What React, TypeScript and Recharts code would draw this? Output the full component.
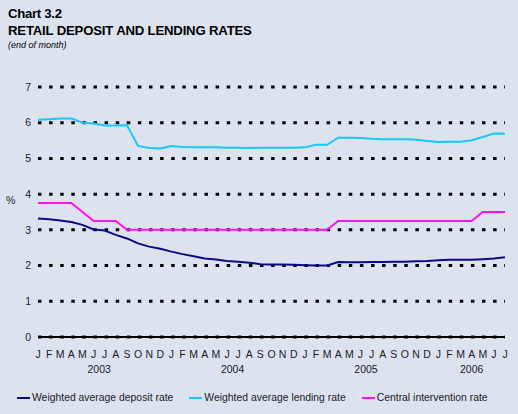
import React from 'react'
import { LineChart, Line, XAxis, YAxis, CartesianGrid } from 'recharts'

const YEARS = [2003, 2004, 2005, 2006]
const MONTH_LETTERS = ['J', 'F', 'M', 'A', 'M', 'J', 'J', 'A', 'S', 'O', 'N', 'D']
const LAST_MONTH_2006 = 7

const DEPOSIT = [
  3.32, 3.3, 3.26, 3.22, 3.14, 3.01, 2.98, 2.86, 2.76, 2.62, 2.53, 2.47,
  2.39, 2.32, 2.26, 2.2, 2.17, 2.13, 2.11, 2.08, 2.04, 2.03, 2.03, 2.02,
  2.01, 2.0, 2.0, 2.1, 2.09, 2.09, 2.1, 2.1, 2.11, 2.11, 2.12, 2.13,
  2.15, 2.16, 2.16, 2.16, 2.18, 2.2, 2.23,
]
const LENDING = [
  6.08, 6.1, 6.12, 6.12, 6.0, 5.98, 5.92, 5.92, 5.93, 5.35, 5.29, 5.28,
  5.35, 5.32, 5.31, 5.31, 5.31, 5.3, 5.3, 5.29, 5.3, 5.3, 5.3, 5.3,
  5.31, 5.38, 5.38, 5.58, 5.58, 5.57, 5.55, 5.54, 5.54, 5.54, 5.52, 5.49,
  5.46, 5.47, 5.47, 5.51, 5.6, 5.7, 5.69,
]
const CENTRAL = [
  3.75, 3.75, 3.75, 3.75, 3.5, 3.25, 3.25, 3.25, 3.0, 3.0, 3.0, 3.0,
  3.0, 3.0, 3.0, 3.0, 3.0, 3.0, 3.0, 3.0, 3.0, 3.0, 3.0, 3.0,
  3.0, 3.0, 3.0, 3.25, 3.25, 3.25, 3.25, 3.25, 3.25, 3.25, 3.25, 3.25,
  3.25, 3.25, 3.25, 3.25, 3.5, 3.5, 3.5,
]
const Y_TICKS = [0, 1, 2, 3, 4, 5, 6, 7]

const SERIES = [
  { key: 'deposit', name: 'Weighted average deposit rate', color: '#0a0a82' },
  { key: 'lending', name: 'Weighted average lending rate', color: '#16c8f6' },
  { key: 'central', name: 'Central intervention rate', color: '#ff10f0' },
]

const periods = YEARS.flatMap(y =>
  MONTH_LETTERS.map((_, m) => ({ year: y, month: m })).filter(
    p => p.year < 2006 || p.month < LAST_MONTH_2006
  )
)

const data = periods.map((p, i) => ({
  period: `${p.year}-${p.month + 1}`,
  deposit: DEPOSIT[i],
  lending: LENDING[i],
  central: CENTRAL[i],
}))

const W = 518
const H = 414
const X_AXIS_H = 30
const MARGIN = { top: 87, right: 13, bottom: 77 - X_AXIS_H, left: 8 }
const Y_AXIS_W = 30
const PLOT_W = W - MARGIN.left - MARGIN.right - Y_AXIS_W
const STEP = PLOT_W / (data.length - 1)
const FONT = '"Liberation Sans", Arial, sans-serif'
const TEXT = '#1a1a1a'

function MonthTick({ x, y, payload }: any) {
  const [yr, mo] = String(payload.value).split('-').map(Number)
  const first = periods.findIndex(p => p.year === yr)
  const count = periods.filter(p => p.year === yr).length
  const isFirst = mo - 1 === periods[first].month
  return (
    <g>
      <text x={x} y={y + 21} textAnchor="middle" fontSize={10.5} fill={TEXT} fontFamily={FONT}>
        {MONTH_LETTERS[mo - 1]}
      </text>
      {isFirst && (
        <text
          x={x + ((count - 1) / 2) * STEP}
          y={y + 36}
          textAnchor="middle"
          fontSize={10.5}
          fill={TEXT}
          fontFamily={FONT}
        >
          {yr}
        </text>
      )}
    </g>
  )
}

export default function App() {
  return (
    <div
      style={{
        position: 'fixed',
        left: 0,
        top: 0,
        width: W,
        height: H,
        background: '#dce3ef',
        fontFamily: FONT,
        color: TEXT,
        overflow: 'hidden',
      }}
    >
      <div style={{ position: 'absolute', left: 8, top: 6, fontSize: 13.2, fontWeight: 'bold', letterSpacing: -0.3, color: '#000' }}>
        Chart 3.2
      </div>
      <div style={{ position: 'absolute', left: 8, top: 23, fontSize: 13.2, fontWeight: 'bold', letterSpacing: -0.2, color: '#000' }}>
        RETAIL DEPOSIT AND LENDING RATES
      </div>
      <div style={{ position: 'absolute', left: 8, top: 40, fontSize: 9, fontStyle: 'italic', color: '#000' }}>
        (end of month)
      </div>
      <div style={{ position: 'absolute', left: 6, top: 194, fontSize: 10.5 }}>%</div>

      <div style={{ position: 'absolute', left: 0, top: 0 }}>
        <LineChart width={W} height={H} data={data} margin={MARGIN}>
          <CartesianGrid
            vertical={false}
            stroke="#000"
            strokeWidth={3}
            strokeDasharray="3.5 7.6"
          />
          <XAxis
            dataKey="period"
            height={X_AXIS_H}
            interval={0}
            tickLine={false}
            tickSize={0}
            tickMargin={0}
            axisLine={{ stroke: '#000', strokeWidth: 2 }}
            tick={<MonthTick />}
          />
          <YAxis
            width={Y_AXIS_W}
            domain={[0, 7]}
            ticks={Y_TICKS}
            axisLine={false}
            tickLine={false}
            tickSize={0}
            tickMargin={7}
            tick={{ fontSize: 10.5, fill: TEXT, fontFamily: FONT }}
          />
          {SERIES.map(s => (
            <Line
              key={s.key}
              type="linear"
              dataKey={s.key}
              name={s.name}
              stroke={s.color}
              strokeWidth={2}
              dot={false}
              isAnimationActive={false}
            />
          ))}
        </LineChart>
      </div>

      <div style={{ position: 'absolute', left: 17, top: 392, display: 'flex', fontSize: 10.4 }}>
        {SERIES.map(s => (
          <div key={s.key} style={{ display: 'flex', alignItems: 'center', marginRight: 16 }}>
            <span style={{ display: 'inline-block', width: 13, height: 2, background: s.color, marginRight: 2 }} />
            <span>{s.name}</span>
          </div>
        ))}
      </div>
    </div>
  )
}
